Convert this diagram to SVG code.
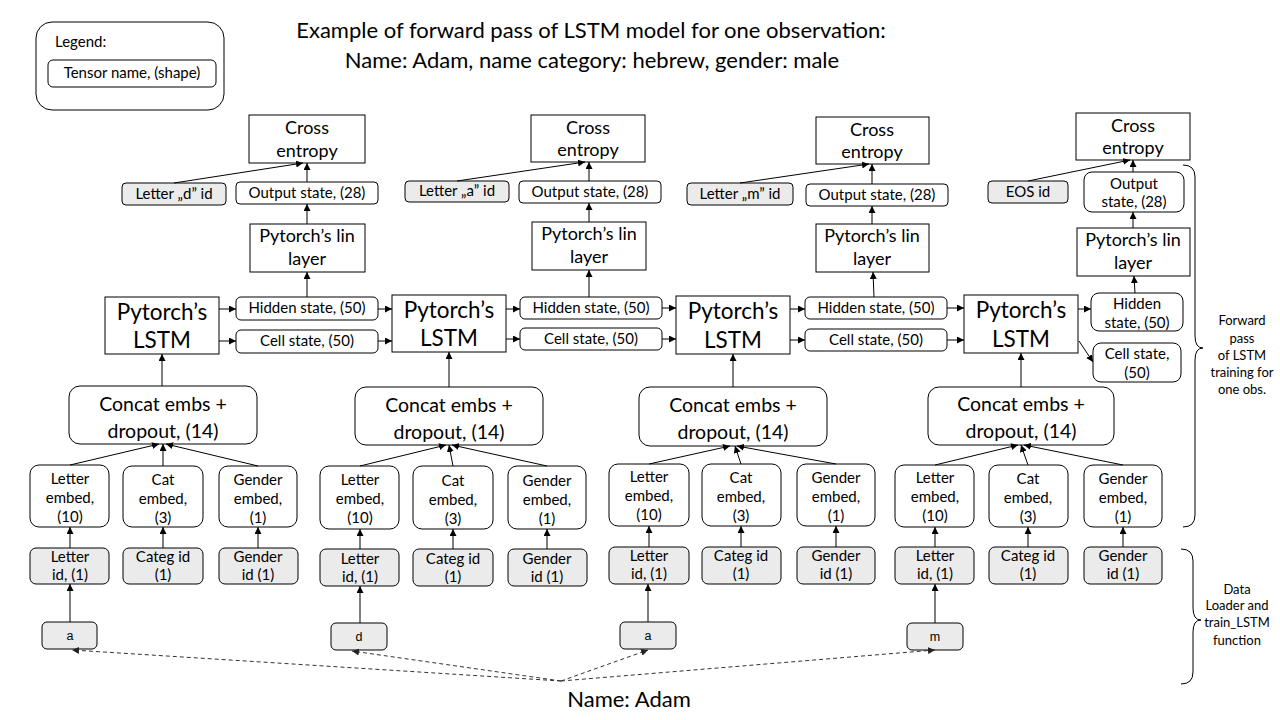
<svg xmlns="http://www.w3.org/2000/svg" width="1280" height="720" viewBox="0 0 1280 720">
<defs>
<marker id="ah" viewBox="0 0 10 10" refX="10" refY="5" markerWidth="7" markerHeight="7" orient="auto" markerUnits="userSpaceOnUse">
<path d="M0,0 L10,5 L0,10 z" fill="#000"/>
</marker>
<marker id="ahd" viewBox="0 0 10 10" refX="10" refY="5" markerWidth="7" markerHeight="7" orient="auto" markerUnits="userSpaceOnUse">
<path d="M0,0 L10,5 L0,10 z" fill="#222"/>
</marker>
</defs>
<style>
.b{fill:#fff;stroke:#000;stroke-width:1}
.g{fill:#ebebeb;stroke:#000;stroke-width:1}
text{font-family:Lato,"Liberation Sans",sans-serif;fill:#000;text-anchor:middle}
.t22{font-size:22.5px}
.t18{font-size:18px}
.t19{font-size:19.5px}
.t15{font-size:15px}
.t13{font-size:13px}
.small{font-family:"Liberation Sans",Arial,sans-serif;font-size:12.5px}
.title{font-size:22px}
.c line{stroke:#000;stroke-width:1;marker-end:url(#ah)}
.d line{stroke:#333;stroke-width:1;stroke-dasharray:4 3;marker-end:url(#ahd)}
.brace{fill:none;stroke:#000;stroke-width:1}
</style>
<rect width="1280" height="720" fill="#fff"/>

<g id="title">
<text class="title" x="591" y="38">Example of forward pass of LSTM model for one observation:</text>
<text class="title" x="592" y="68">Name: Adam, name category: hebrew, gender: male</text>
</g>

<g id="legend">
<rect class="b" x="36" y="22" width="188" height="88" rx="16"/>
<text class="t15" x="55" y="47" style="text-anchor:start">Legend:</text>
<rect class="b" x="48" y="60" width="168" height="27" rx="5"/>
<text class="t15" x="132" y="78">Tensor name, (shape)</text>
</g>

<!-- Column 1 -->
<g id="ce1"><rect class="b" x="249" y="115" width="116" height="48"/><text class="t18" x="307" y="134">Cross</text><text class="t18" x="307" y="157">entropy</text></g>
<g id="lid1"><rect class="g" x="122" y="183" width="104" height="22" rx="4"/><text class="t15" x="174" y="199">Letter „d” id</text></g>
<g id="out1"><rect class="b" x="236" y="182" width="142" height="22" rx="4"/><text class="t15" x="307" y="198">Output state, (28)</text></g>
<g id="lin1"><rect class="b" x="250" y="224" width="115" height="48"/><text class="t18" x="307" y="242">Pytorch’s lin</text><text class="t18" x="307" y="265">layer</text></g>
<g id="lstm1"><rect class="b" x="105" y="297" width="114" height="57"/><text class="t22" x="162" y="320">Pytorch’s</text><text class="t22" x="162" y="348">LSTM</text></g>
<g id="hid1"><rect class="b" x="236" y="297" width="142" height="23" rx="5"/><text class="t15" x="307" y="313">Hidden state, (50)</text></g>
<g id="cell1"><rect class="b" x="236" y="330" width="142" height="23" rx="5"/><text class="t15" x="307" y="346">Cell state, (50)</text></g>
<g id="concat1"><rect class="b" x="69" y="386" width="188" height="58" rx="11"/><text class="t19" x="163" y="411">Concat embs +</text><text class="t19" x="163" y="438">dropout, (14)</text></g>
<g id="le1"><rect class="b" x="30" y="465" width="79" height="62" rx="9"/><text class="t15" x="70" y="484">Letter</text><text class="t15" x="70" y="503">embed,</text><text class="t15" x="70" y="522">(10)</text></g>
<g id="cte1"><rect class="b" x="123" y="466" width="80" height="61" rx="9"/><text class="t15" x="163" y="485">Cat</text><text class="t15" x="163" y="504">embed,</text><text class="t15" x="163" y="523">(3)</text></g>
<g id="ge1"><rect class="b" x="219" y="466" width="78" height="61" rx="9"/><text class="t15" x="258" y="485">Gender</text><text class="t15" x="258" y="504">embed,</text><text class="t15" x="258" y="523">(1)</text></g>
<g id="lidx1"><rect class="g" x="30" y="548" width="79" height="36" rx="6"/><text class="t15" x="70" y="562">Letter</text><text class="t15" x="70" y="580">id, (1)</text></g>
<g id="cidx1"><rect class="g" x="123" y="548" width="80" height="36" rx="6"/><text class="t15" x="163" y="562">Categ id</text><text class="t15" x="163" y="580">(1)</text></g>
<g id="gidx1"><rect class="g" x="219" y="548" width="79" height="36" rx="6"/><text class="t15" x="258" y="562">Gender</text><text class="t15" x="258" y="580">id (1)</text></g>
<g id="in1"><rect class="g" x="42" y="622" width="55" height="27" rx="5"/><text class="small" x="70" y="640">a</text></g>

<!-- Column 2 -->
<g id="ce2"><rect class="b" x="531" y="115" width="114" height="47"/><text class="t18" x="588" y="134">Cross</text><text class="t18" x="588" y="156">entropy</text></g>
<g id="lid2"><rect class="g" x="405" y="181" width="104" height="21" rx="4"/><text class="t15" x="457" y="196">Letter „a” id</text></g>
<g id="out2"><rect class="b" x="519" y="181" width="142" height="22" rx="4"/><text class="t15" x="590" y="197">Output state, (28)</text></g>
<g id="lin2"><rect class="b" x="532" y="222" width="114" height="48"/><text class="t18" x="589" y="240">Pytorch’s lin</text><text class="t18" x="589" y="263">layer</text></g>
<g id="lstm2"><rect class="b" x="392" y="295" width="114" height="57"/><text class="t22" x="449" y="318">Pytorch’s</text><text class="t22" x="449" y="346">LSTM</text></g>
<g id="hid2"><rect class="b" x="520" y="297" width="142" height="22" rx="5"/><text class="t15" x="591" y="313">Hidden state, (50)</text></g>
<g id="cell2"><rect class="b" x="520" y="328" width="142" height="22" rx="5"/><text class="t15" x="591" y="344">Cell state, (50)</text></g>
<g id="concat2"><rect class="b" x="355" y="387" width="188" height="58" rx="11"/><text class="t19" x="449" y="412">Concat embs +</text><text class="t19" x="449" y="439">dropout, (14)</text></g>
<g id="le2"><rect class="b" x="320" y="466" width="79" height="63" rx="9"/><text class="t15" x="360" y="485">Letter</text><text class="t15" x="360" y="504">embed,</text><text class="t15" x="360" y="523">(10)</text></g>
<g id="cte2"><rect class="b" x="413" y="466" width="80" height="63" rx="9"/><text class="t15" x="453" y="486">Cat</text><text class="t15" x="453" y="505">embed,</text><text class="t15" x="453" y="524">(3)</text></g>
<g id="ge2"><rect class="b" x="508" y="466" width="78" height="63" rx="9"/><text class="t15" x="547" y="486">Gender</text><text class="t15" x="547" y="505">embed,</text><text class="t15" x="547" y="524">(1)</text></g>
<g id="lidx2"><rect class="g" x="320" y="549" width="79" height="37" rx="6"/><text class="t15" x="360" y="564">Letter</text><text class="t15" x="360" y="582">id, (1)</text></g>
<g id="cidx2"><rect class="g" x="413" y="549" width="80" height="37" rx="6"/><text class="t15" x="453" y="564">Categ id</text><text class="t15" x="453" y="582">(1)</text></g>
<g id="gidx2"><rect class="g" x="508" y="549" width="79" height="37" rx="6"/><text class="t15" x="547" y="564">Gender</text><text class="t15" x="547" y="582">id (1)</text></g>
<g id="in2"><rect class="g" x="331" y="623" width="56" height="27" rx="5"/><text class="small" x="359" y="641">d</text></g>

<!-- Column 3 -->
<g id="ce3"><rect class="b" x="816" y="117" width="113" height="47"/><text class="t18" x="872" y="136">Cross</text><text class="t18" x="872" y="158">entropy</text></g>
<g id="lid3"><rect class="g" x="687" y="183" width="106" height="22" rx="4"/><text class="t15" x="740" y="199">Letter „m” id</text></g>
<g id="out3"><rect class="b" x="806" y="184" width="142" height="22" rx="4"/><text class="t15" x="877" y="200">Output state, (28)</text></g>
<g id="lin3"><rect class="b" x="816" y="224" width="113" height="48"/><text class="t18" x="872" y="242">Pytorch’s lin</text><text class="t18" x="872" y="265">layer</text></g>
<g id="lstm3"><rect class="b" x="676" y="296" width="114" height="58"/><text class="t22" x="733" y="319">Pytorch’s</text><text class="t22" x="733" y="348">LSTM</text></g>
<g id="hid3"><rect class="b" x="805" y="297" width="142" height="22" rx="5"/><text class="t15" x="876" y="313">Hidden state, (50)</text></g>
<g id="cell3"><rect class="b" x="805" y="329" width="142" height="22" rx="5"/><text class="t15" x="876" y="345">Cell state, (50)</text></g>
<g id="concat3"><rect class="b" x="639" y="387" width="188" height="59" rx="11"/><text class="t19" x="733" y="412">Concat embs +</text><text class="t19" x="733" y="439">dropout, (14)</text></g>
<g id="le3"><rect class="b" x="609" y="464" width="80" height="62" rx="9"/><text class="t15" x="649" y="482">Letter</text><text class="t15" x="649" y="501">embed,</text><text class="t15" x="649" y="520">(10)</text></g>
<g id="cte3"><rect class="b" x="702" y="464" width="79" height="62" rx="9"/><text class="t15" x="741" y="483">Cat</text><text class="t15" x="741" y="502">embed,</text><text class="t15" x="741" y="521">(3)</text></g>
<g id="ge3"><rect class="b" x="797" y="464" width="78" height="62" rx="9"/><text class="t15" x="836" y="483">Gender</text><text class="t15" x="836" y="502">embed,</text><text class="t15" x="836" y="521">(1)</text></g>
<g id="lidx3"><rect class="g" x="609" y="547" width="80" height="37" rx="6"/><text class="t15" x="649" y="561">Letter</text><text class="t15" x="649" y="579">id, (1)</text></g>
<g id="cidx3"><rect class="g" x="702" y="547" width="79" height="37" rx="6"/><text class="t15" x="741" y="561">Categ id</text><text class="t15" x="741" y="579">(1)</text></g>
<g id="gidx3"><rect class="g" x="797" y="547" width="78" height="37" rx="6"/><text class="t15" x="836" y="561">Gender</text><text class="t15" x="836" y="579">id (1)</text></g>
<g id="in3"><rect class="g" x="620" y="622" width="56" height="27" rx="5"/><text class="small" x="648" y="640">a</text></g>

<!-- Column 4 -->
<g id="ce4"><rect class="b" x="1076" y="113" width="114" height="47"/><text class="t18" x="1133" y="132">Cross</text><text class="t18" x="1133" y="154">entropy</text></g>
<g id="eos"><rect class="g" x="988" y="181" width="80" height="22" rx="4"/><text class="t15" x="1028" y="197">EOS id</text></g>
<g id="out4"><rect class="b" x="1084" y="172" width="100" height="40" rx="8"/><text class="t15" x="1134" y="189">Output</text><text class="t15" x="1134" y="207">state, (28)</text></g>
<g id="lin4"><rect class="b" x="1077" y="228" width="113" height="48"/><text class="t18" x="1133" y="246">Pytorch’s lin</text><text class="t18" x="1133" y="269">layer</text></g>
<g id="lstm4"><rect class="b" x="964" y="295" width="114" height="58"/><text class="t22" x="1021" y="318">Pytorch’s</text><text class="t22" x="1021" y="347">LSTM</text></g>
<g id="hid4"><rect class="b" x="1091" y="293" width="92" height="38" rx="8"/><text class="t15" x="1137" y="309">Hidden</text><text class="t15" x="1137" y="328">state, (50)</text></g>
<g id="cell4"><rect class="b" x="1093" y="343" width="88" height="39" rx="8"/><text class="t15" x="1137" y="359">Cell state,</text><text class="t15" x="1137" y="378">(50)</text></g>
<g id="concat4"><rect class="b" x="928" y="387" width="186" height="58" rx="11"/><text class="t19" x="1021" y="411">Concat embs +</text><text class="t19" x="1021" y="438">dropout, (14)</text></g>
<g id="le4"><rect class="b" x="895" y="465" width="79" height="62" rx="9"/><text class="t15" x="935" y="483">Letter</text><text class="t15" x="935" y="502">embed,</text><text class="t15" x="935" y="521">(10)</text></g>
<g id="cte4"><rect class="b" x="989" y="465" width="79" height="62" rx="9"/><text class="t15" x="1028" y="484">Cat</text><text class="t15" x="1028" y="503">embed,</text><text class="t15" x="1028" y="522">(3)</text></g>
<g id="ge4"><rect class="b" x="1084" y="465" width="78" height="62" rx="9"/><text class="t15" x="1123" y="484">Gender</text><text class="t15" x="1123" y="503">embed,</text><text class="t15" x="1123" y="522">(1)</text></g>
<g id="lidx4"><rect class="g" x="895" y="547" width="79" height="37" rx="6"/><text class="t15" x="935" y="561">Letter</text><text class="t15" x="935" y="579">id, (1)</text></g>
<g id="cidx4"><rect class="g" x="989" y="547" width="79" height="37" rx="6"/><text class="t15" x="1028" y="561">Categ id</text><text class="t15" x="1028" y="579">(1)</text></g>
<g id="gidx4"><rect class="g" x="1084" y="547" width="78" height="37" rx="6"/><text class="t15" x="1123" y="561">Gender</text><text class="t15" x="1123" y="579">id (1)</text></g>
<g id="in4"><rect class="g" x="907" y="623" width="56" height="27" rx="5"/><text class="small" x="935" y="641">m</text></g>

<g id="name"><text class="title" x="629" y="707">Name: Adam</text></g>

<g id="braces">
<path class="brace" d="M1183,165 Q1195,165 1195,177 L1195,336 Q1195,348 1203,348 Q1195,348 1195,360 L1195,515 Q1195,527 1183,527"/>
<path class="brace" d="M1181,549 Q1193,549 1193,561 L1193,608 Q1193,620 1201,620 Q1193,620 1193,632 L1193,672 Q1193,684 1181,684"/>
<text class="t13" x="1242" y="325">Forward</text>
<text class="t13" x="1242" y="343">pass</text>
<text class="t13" x="1242" y="360">of LSTM</text>
<text class="t13" x="1242" y="377">training for</text>
<text class="t13" x="1242" y="394">one obs.</text>
<text class="t13" x="1237" y="594">Data</text>
<text class="t13" x="1237" y="610">Loader and</text>
<text class="t13" x="1237" y="627">train_LSTM</text>
<text class="t13" x="1237" y="645">function</text>
</g>

<g id="connectors">
<g class="c">
<!-- col1 -->
<line x1="307" y1="182" x2="307" y2="163"/>
<line x1="174" y1="183" x2="303" y2="163"/>
<line x1="307" y1="224" x2="307" y2="204"/>
<line x1="307" y1="297" x2="307" y2="272"/>
<line x1="219" y1="309" x2="236" y2="309"/>
<line x1="219" y1="341" x2="236" y2="341"/>
<line x1="378" y1="309" x2="392" y2="309"/>
<line x1="378" y1="341" x2="392" y2="341"/>
<line x1="162" y1="386" x2="162" y2="354"/>
<line x1="70" y1="465" x2="159" y2="444"/>
<line x1="163" y1="466" x2="163" y2="444"/>
<line x1="258" y1="466" x2="166" y2="444"/>
<line x1="70" y1="548" x2="70" y2="527"/>
<line x1="163" y1="548" x2="163" y2="527"/>
<line x1="258" y1="548" x2="258" y2="527"/>
<line x1="70" y1="622" x2="70" y2="584"/>
<!-- col2 -->
<line x1="589" y1="181" x2="589" y2="162"/>
<line x1="457" y1="181" x2="585" y2="162"/>
<line x1="589" y1="222" x2="589" y2="203"/>
<line x1="589" y1="297" x2="589" y2="270"/>
<line x1="506" y1="309" x2="520" y2="309"/>
<line x1="506" y1="339" x2="520" y2="339"/>
<line x1="662" y1="308" x2="676" y2="308"/>
<line x1="662" y1="339" x2="676" y2="339"/>
<line x1="449" y1="387" x2="449" y2="352"/>
<line x1="360" y1="466" x2="446" y2="445"/>
<line x1="453" y1="466" x2="449" y2="445"/>
<line x1="547" y1="466" x2="452" y2="445"/>
<line x1="360" y1="549" x2="360" y2="529"/>
<line x1="453" y1="549" x2="453" y2="529"/>
<line x1="547" y1="549" x2="547" y2="529"/>
<line x1="360" y1="623" x2="360" y2="586"/>
<!-- col3 -->
<line x1="872" y1="184" x2="872" y2="164"/>
<line x1="740" y1="183" x2="869" y2="164"/>
<line x1="872" y1="224" x2="872" y2="206"/>
<line x1="874" y1="297" x2="873" y2="272"/>
<line x1="790" y1="309" x2="805" y2="309"/>
<line x1="790" y1="340" x2="805" y2="340"/>
<line x1="947" y1="308" x2="964" y2="308"/>
<line x1="947" y1="340" x2="964" y2="340"/>
<line x1="733" y1="387" x2="733" y2="354"/>
<line x1="649" y1="464" x2="730" y2="446"/>
<line x1="741" y1="464" x2="735" y2="446"/>
<line x1="836" y1="464" x2="737" y2="446"/>
<line x1="649" y1="547" x2="649" y2="526"/>
<line x1="741" y1="547" x2="741" y2="526"/>
<line x1="836" y1="547" x2="836" y2="526"/>
<line x1="648" y1="622" x2="648" y2="584"/>
<!-- col4 -->
<line x1="1133" y1="172" x2="1133" y2="160"/>
<line x1="1028" y1="181" x2="1130" y2="160"/>
<line x1="1133" y1="228" x2="1133" y2="212"/>
<line x1="1135" y1="293" x2="1134" y2="276"/>
<line x1="1078" y1="309" x2="1091" y2="309"/>
<line x1="1079" y1="341" x2="1093" y2="362"/>
<line x1="1021" y1="387" x2="1021" y2="353"/>
<line x1="935" y1="465" x2="1018" y2="445"/>
<line x1="1028" y1="465" x2="1021" y2="445"/>
<line x1="1123" y1="465" x2="1024" y2="445"/>
<line x1="935" y1="547" x2="935" y2="527"/>
<line x1="1028" y1="547" x2="1028" y2="527"/>
<line x1="1123" y1="547" x2="1123" y2="527"/>
<line x1="935" y1="623" x2="935" y2="584"/>
</g>
<g class="d">
<line x1="561" y1="681" x2="72" y2="650"/>
<line x1="561" y1="681" x2="352" y2="651"/>
<line x1="561" y1="681" x2="648" y2="650"/>
<line x1="561" y1="681" x2="935" y2="650"/>
</g>
</g>
</svg>
